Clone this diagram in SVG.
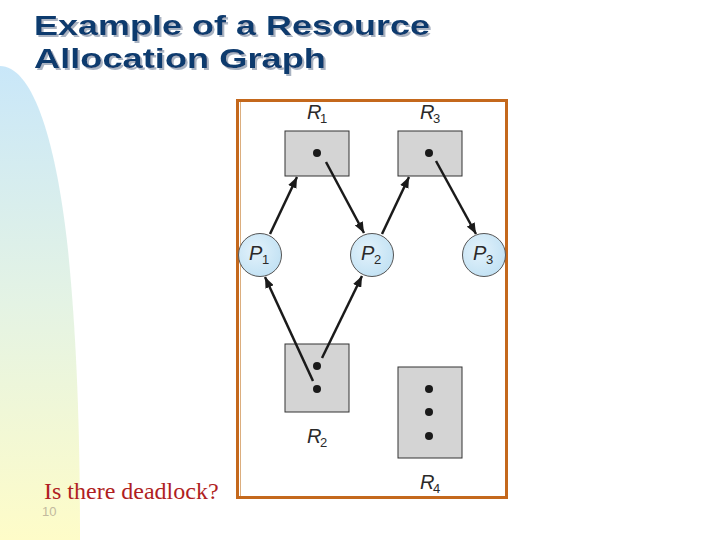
<svg xmlns="http://www.w3.org/2000/svg" width="720" height="540" viewBox="0 0 720 540">
<defs>
<linearGradient id="side" x1="0" y1="0" x2="0" y2="1">
<stop offset="0" stop-color="#c9e7f9"/>
<stop offset="0.5" stop-color="#e4f3e4"/>
<stop offset="1" stop-color="#fefcc8"/>
</linearGradient>
<radialGradient id="proc" cx="0.4" cy="0.4" r="0.7">
<stop offset="0" stop-color="#e3f2fb"/>
<stop offset="1" stop-color="#bfe0f3"/>
</radialGradient>
<filter id="tshadow" x="-5%" y="-20%" width="110%" height="150%">
<feOffset in="SourceAlpha" dx="2" dy="2" result="off"/>
<feFlood flood-color="#a9b3c2"/>
<feComposite in2="off" operator="in" result="sh"/>
<feMerge><feMergeNode in="sh"/><feMergeNode in="SourceGraphic"/></feMerge>
</filter>
<marker id="ah" viewBox="0 0 11 9" refX="11" refY="4.5" markerWidth="11" markerHeight="9" markerUnits="userSpaceOnUse" orient="auto">
<path d="M0,0 L11,4.5 L0,9 Z" fill="#1a1a1a"/>
</marker>
<style>
.title{font-family:"Liberation Sans",Arial,sans-serif;font-weight:bold;font-size:28px;fill:#0b3a6e}
.res{fill:#d4d4d4;stroke:#333;stroke-width:1}
.dot{fill:#1a1a1a}
.proc{fill:url(#proc);stroke:#555;stroke-width:1}
.lbl{font-family:"Liberation Sans",Arial,sans-serif;font-style:italic;font-size:20px;fill:#2a2a2a}
.sub{font-family:"Liberation Sans",Arial,sans-serif;font-size:13px;fill:#2a2a2a}
.edge{stroke:#1a1a1a;stroke-width:2.5;fill:none;marker-end:url(#ah)}
.q{font-family:"Liberation Serif","Times New Roman",serif;font-size:24px;fill:#b01e22}
.pg{font-family:"Liberation Sans",Arial,sans-serif;font-size:13px;fill:#c2b99e}
</style>
</defs>
<rect width="720" height="540" fill="#ffffff"/>
<path d="M0,66 C30,66 55,130 68,250 C76,330 80,420 80,540 L0,540 Z" fill="url(#side)"/>
<g id="title" filter="url(#tshadow)">
<text class="title" x="34" y="35" textLength="396" lengthAdjust="spacingAndGlyphs">Example of a Resource</text>
<text class="title" x="34" y="68" textLength="292" lengthAdjust="spacingAndGlyphs">Allocation Graph</text>
</g>
<g id="frame">
<rect x="237.5" y="100.5" width="269" height="397" fill="#ffffff" stroke="#c4681c" stroke-width="3"/>
<line x1="240.5" y1="102" x2="240.5" y2="496" stroke="#dcae7e" stroke-width="1"/>
</g>
<g id="R1">
<rect class="res" x="285" y="131" width="64" height="45"/>
<circle class="dot" cx="317" cy="153" r="4"/>
<text class="lbl" x="307" y="119">R</text><text class="sub" x="320" y="123">1</text>
</g>
<g id="R3">
<rect class="res" x="398" y="131" width="64" height="45"/>
<circle class="dot" cx="429" cy="153" r="4"/>
<text class="lbl" x="420" y="119">R</text><text class="sub" x="433" y="123">3</text>
</g>
<g id="R2">
<rect class="res" x="285" y="344" width="64" height="68"/>
<circle class="dot" cx="317" cy="366" r="4"/>
<circle class="dot" cx="317" cy="389" r="4"/>
<text class="lbl" x="307" y="443">R</text><text class="sub" x="320" y="447">2</text>
</g>
<g id="R4">
<rect class="res" x="398" y="367" width="64" height="91"/>
<circle class="dot" cx="429" cy="389" r="4"/>
<circle class="dot" cx="429" cy="412" r="4"/>
<circle class="dot" cx="429" cy="436" r="4"/>
<text class="lbl" x="420" y="489">R</text><text class="sub" x="433" y="493">4</text>
</g>
<g id="P1">
<circle class="proc" cx="260" cy="255" r="21.5"/>
<text class="lbl" x="249" y="260">P</text><text class="sub" x="262" y="264">1</text>
</g>
<g id="P2">
<circle class="proc" cx="372" cy="255" r="21.5"/>
<text class="lbl" x="361" y="260">P</text><text class="sub" x="374" y="264">2</text>
</g>
<g id="P3">
<circle class="proc" cx="484" cy="255" r="21.5"/>
<text class="lbl" x="473" y="260">P</text><text class="sub" x="486" y="264">3</text>
</g>
<g id="connectors">
<line class="edge" x1="270" y1="234" x2="297" y2="177"/>
<line class="edge" x1="326" y1="162" x2="364" y2="233"/>
<line class="edge" x1="382" y1="234" x2="409" y2="177"/>
<line class="edge" x1="436" y1="161" x2="476" y2="234"/>
<line class="edge" x1="322" y1="358" x2="362" y2="276"/>
<line class="edge" x1="313" y1="381" x2="265" y2="277"/>
</g>
<text class="q" x="44" y="499">Is there deadlock?</text>
<text class="pg" x="42" y="516">10</text>
</svg>
